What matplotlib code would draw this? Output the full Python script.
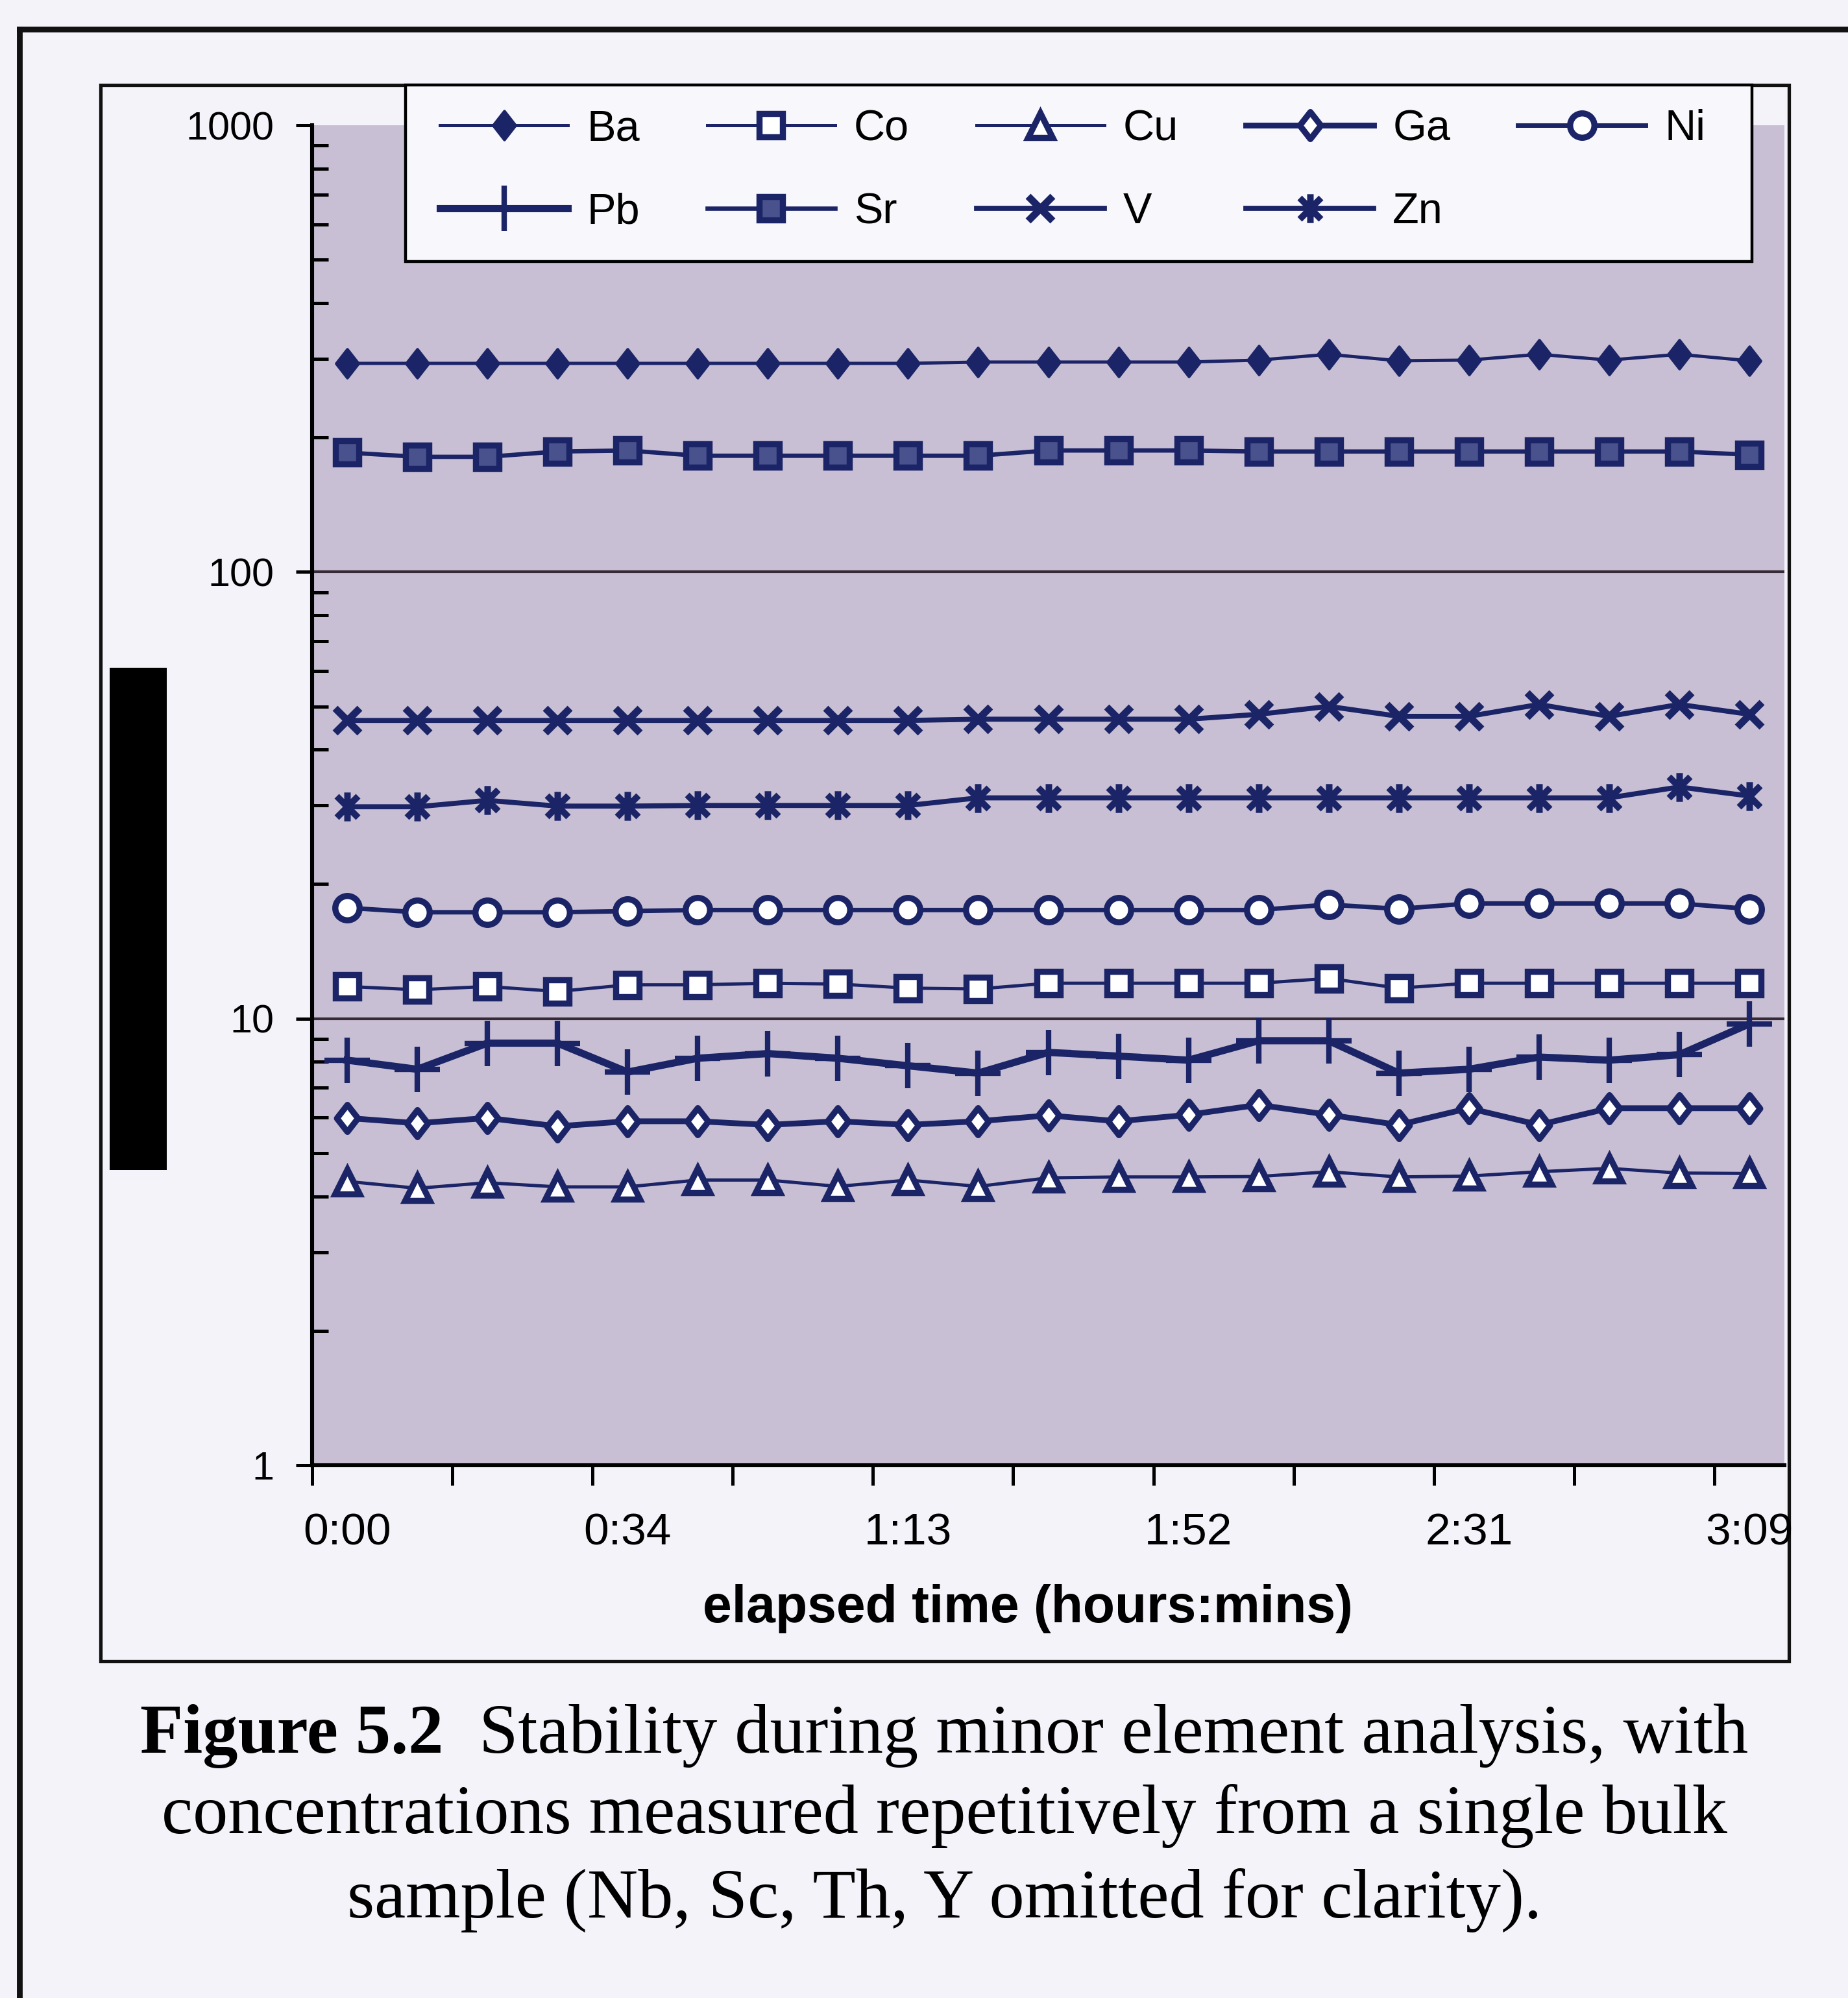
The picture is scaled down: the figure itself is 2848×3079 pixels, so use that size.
import numpy as np
import matplotlib
matplotlib.use('Agg')
import matplotlib.pyplot as plt
from matplotlib.path import Path
from matplotlib.patches import Rectangle
from matplotlib.lines import Line2D

# repeated analyses of one bulk sample, 21 runs, labelled every 4th run
time_labels = ['0:00', '0:34', '1:13', '1:52', '2:31', '3:09']
label_every = 4

ba = [293, 293, 293, 293, 293, 293, 293, 293, 293, 295, 295, 295, 295, 298, 307, 297, 298, 307, 298, 307, 297]
co = [11.8, 11.6, 11.8, 11.5, 11.9, 11.9, 12.0, 11.95, 11.7, 11.65, 12.0, 12.0, 12.0, 12.0, 12.3, 11.7, 12.0, 12.0, 12.0, 12.0, 12.0]
cu = [4.32, 4.17, 4.29, 4.20, 4.20, 4.35, 4.35, 4.21, 4.35, 4.21, 4.40, 4.42, 4.42, 4.43, 4.54, 4.42, 4.44, 4.54, 4.62, 4.51, 4.50]
ga = [5.99, 5.83, 5.99, 5.74, 5.89, 5.89, 5.78, 5.89, 5.78, 5.89, 6.07, 5.89, 6.09, 6.41, 6.09, 5.78, 6.30, 5.78, 6.30, 6.30, 6.30]
ni = [17.7, 17.3, 17.3, 17.3, 17.4, 17.5, 17.5, 17.5, 17.5, 17.5, 17.5, 17.5, 17.5, 17.5, 18.0, 17.6, 18.1, 18.1, 18.1, 18.1, 17.6]
pb = [8.07, 7.70, 8.81, 8.81, 7.59, 8.15, 8.35, 8.15, 7.84, 7.55, 8.40, 8.24, 8.07, 8.92, 8.92, 7.55, 7.70, 8.20, 8.07, 8.30, 9.73]
sr = [185, 181, 181, 186, 187, 182, 182, 182, 182, 182, 187, 187, 187, 186, 186, 186, 186, 186, 186, 186, 183]
v = [46.5, 46.5, 46.5, 46.5, 46.5, 46.5, 46.5, 46.5, 46.5, 46.8, 46.8, 46.8, 46.8, 48.0, 50.0, 47.5, 47.5, 50.5, 47.5, 50.5, 48.0]
zn = [29.8, 29.8, 30.8, 29.9, 29.9, 30.0, 30.0, 30.0, 30.0, 31.2, 31.2, 31.2, 31.2, 31.2, 31.2, 31.2, 31.2, 31.2, 31.2, 33.0, 31.5]

W, H = 2848, 3079
DPI = 200

def fx(px):
    return px / W

def fy(py):
    return 1 - py / H

navy = '#1b2466'
page = '#f4f3fa'

# excel style asterisk: an x with a vertical bar
star = Path([(-1, -1), (1, 1), (-1, 1), (1, -1), (0, -1.35), (0, 1.35)],
            [Path.MOVETO, Path.LINETO] * 3)
# slightly tall diamond like the excel one
tall_d = Path([(0, 1), (0.78, 0), (0, -1), (-0.78, 0), (0, 1)],
              [Path.MOVETO, Path.LINETO, Path.LINETO, Path.LINETO, Path.CLOSEPOLY])

series = [
    ('Ba', ba, dict(marker=tall_d, ms=16, mfc=navy, mew=1.5, lw=1.8)),
    ('Co', co, dict(marker='s', ms=13, mfc='white', mew=3.4, lw=1.8)),
    ('Cu', cu, dict(marker='^', ms=14, mfc='white', mew=3.4, lw=1.8)),
    ('Ga', ga, dict(marker=tall_d, ms=15, mfc='white', mew=3.4, lw=3.2)),
    ('Ni', ni, dict(marker='o', ms=13.5, mfc='white', mew=3.4, lw=2.5)),
    ('Pb', pb, dict(marker='+', ms=25, mew=3.0, lw=4.0)),
    ('Sr', sr, dict(marker='s', ms=13, mfc='#49528c', mew=3.4, lw=2.4)),
    ('V', v, dict(marker='x', ms=14, mew=4.0, lw=2.8)),
    ('Zn', zn, dict(marker=star, ms=16, mew=3.6, lw=2.8)),
]

fig = plt.figure(figsize=(W / DPI, H / DPI), dpi=DPI)
fig.patch.set_facecolor(page)

ax = fig.add_axes([fx(481), fy(2258), fx(2750) - fx(481), fy(193) - fy(2258)])
ax.set_facecolor('#c8bfd4')

n = len(ba)
x = np.arange(n)
handles = {}
for name, vals, st in series:
    h, = ax.plot(x, vals, color=navy, mec=navy, label=name, zorder=3, **st)
    handles[name] = h

ax.set_yscale('log')
ax.set_ylim(1, 1000)
ax.set_xlim(-0.5, n - 0.5)

ax.set_yticks([1, 10, 100, 1000])
ax.set_yticklabels(['1', '10', '100', '1000'])
ax.tick_params(axis='y', which='major', direction='out', length=9, width=1.8,
               labelsize=22, pad=12)
ax.tick_params(axis='y', which='minor', direction='in', length=9, width=1.8)
for g in [10, 100]:
    ax.axhline(g, color='#352a35', lw=1.5, zorder=1)

# tick marks every 2 runs between categories, labels every 4 runs
ax.set_xticks(np.arange(-0.5, n - 1, 2))
ax.set_xticklabels([])
ax.set_xticks(x[::label_every], time_labels, minor=True)
ax.tick_params(axis='x', which='major', direction='out', length=11, width=1.8)
ax.tick_params(axis='x', which='minor', length=0, labelsize=25, pad=26)

for lab in ax.get_xticklabels(minor=True) + ax.get_yticklabels():
    lab.set_fontfamily('Liberation Sans')

ax.spines['top'].set_visible(False)
ax.spines['right'].set_visible(False)
ax.spines['left'].set_linewidth(2.2)
ax.spines['bottom'].set_linewidth(2.2)

ax.set_xlabel('elapsed time (hours:mins)', fontsize=29, fontweight='bold',
              fontfamily='Liberation Sans')
ax.xaxis.set_label_coords(0.486, -0.107)
ax.xaxis.label.set_va('center')

# legend: frame drawn separately, entries filled row by row
fig.add_artist(Rectangle((fx(625), fy(403)), fx(2700) - fx(625), fy(131) - fy(403),
                         transform=fig.transFigure, fc='#f8f7fc', ec='black', lw=1.6, zorder=4))
order = ['Ba', 'Pb', 'Co', 'Sr', 'Cu', 'V', 'Ga', 'Zn', 'Ni']
leg = fig.legend(handles=[handles[k] for k in order], ncol=5, loc='upper left',
                 bbox_to_anchor=(fx(655), fy(145)), frameon=False, borderpad=0.35,
                 prop={'family': 'Liberation Sans', 'size': 24},
                 handlelength=2.95, handletextpad=0.44, labelspacing=0.99,
                 columnspacing=1.56, borderaxespad=0)
leg.set_zorder(5)

# chart frame and page edges
fig.add_artist(Rectangle((fx(155), fy(2560)), fx(2757) - fx(155), fy(131) - fy(2560),
                         transform=fig.transFigure, fill=False, lw=1.9, ec='#111111', zorder=0))
fig.add_artist(Line2D([fx(30), 1], [fy(45), fy(45)], transform=fig.transFigure,
                      color='#111111', lw=3.2))
fig.add_artist(Line2D([fx(30), fx(30)], [fy(45), 0], transform=fig.transFigure,
                      color='#111111', lw=3.2))
fig.add_artist(Rectangle((fx(169), fy(1803)), fx(257) - fx(169), fy(1029) - fy(1803),
                         transform=fig.transFigure, fc='black', ec='none'))

# caption, first line has a bold lead-in
cap_font = 'Liberation Serif'
cap_size = 39
cx = fx(1455)
r = fig.canvas.get_renderer()
t1 = fig.text(0, fy(2701), 'Figure 5.2', fontsize=cap_size, fontweight='bold',
              fontfamily=cap_font, va='baseline', ha='left')
t2 = fig.text(0, fy(2701), '  Stability during minor element analysis, with', fontsize=cap_size,
              fontfamily=cap_font, va='baseline', ha='left')
w1 = t1.get_window_extent(r).width / W
w2 = t2.get_window_extent(r).width / W
start = cx - (w1 + w2) / 2
t1.set_x(start)
t2.set_x(start + w1)
fig.text(cx, fy(2825), 'concentrations measured repetitively from a single bulk',
         fontsize=cap_size, fontfamily=cap_font, va='baseline', ha='center')
fig.text(cx, fy(2955), 'sample (Nb, Sc, Th, Y omitted for clarity).',
         fontsize=cap_size, fontfamily=cap_font, va='baseline', ha='center')

fig.savefig('out.png', dpi=DPI, facecolor=fig.get_facecolor())
